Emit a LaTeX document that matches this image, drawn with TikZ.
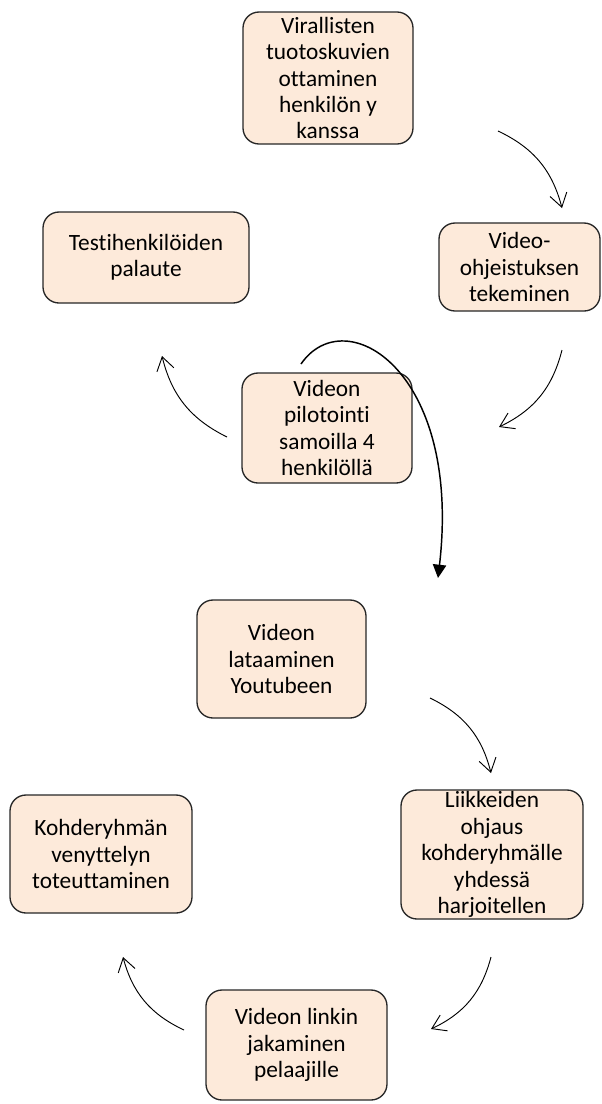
\documentclass[tikz,border=0pt]{standalone}
\usepackage{fontspec}
\setmainfont{Carlito}[RawFeature={-liga}]
\usetikzlibrary{arrows.meta,positioning}
\definecolor{boxfill}{RGB}{253,234,218}

\begin{document}
\begin{tikzpicture}[x=0.75pt,y=0.75pt]
       \tikzstyle{stepbox}=[draw=black!85, fill=boxfill, line width=1pt,
                            rounded corners=12pt, align=center, inner sep=0pt,
                            font=\fontsize{17.5}{19.8}\selectfont]
       \tikzstyle{cyc}=[-{Straight Barb[length=10pt,width=13pt]}, line width=0.7pt]
       \tikzstyle{bigarrow}=[-{Triangle[length=10pt,width=10pt]}, line width=1.1pt]

       \useasboundingbox (0,0) rectangle (601,-1104);

       % first round
       \node[stepbox, minimum width=127.5pt, minimum height=99pt]   (virall) at (328,-78)    {Virallisten\\tuotoskuvien\\ottaminen\\henkilön y\\kanssa};
       \node[stepbox, minimum width=120.75pt, minimum height=66pt]  (video)  at (519.5,-267) {Video-\\ohjeistuksen\\tekeminen};
       \node[stepbox, minimum width=127.5pt, minimum height=82.5pt] (pilot)  at (327,-428)   {Videon\\pilotointi\\samoilla 4\\henkilöllä};
       \node[stepbox, minimum width=154.5pt, minimum height=68.25pt](testi)  at (146,-257.5) {Testihenkilöiden\\palaute};

       % second round
       \node[stepbox, minimum width=126.75pt, minimum height=88.5pt] (lataus) at (281.5,-659)  {Videon\\lataaminen\\Youtubeen};
       \node[stepbox, minimum width=136.5pt, minimum height=96.75pt] (liikk)  at (492,-854.5)  {Liikkeiden\\ohjaus\\kohderyhmälle\\yhdessä\\harjoitellen};
       \node[stepbox, minimum width=135.75pt, minimum height=82.5pt] (linkki) at (296.5,-1045) {Videon linkin\\jakaminen\\pelaajille};
       \node[stepbox, minimum width=136.5pt, minimum height=88.5pt]  (kohde)  at (101,-854)    {Kohderyhmän\\venyttelyn\\toteuttaminen};

       % arrow ends
       \coordinate (a1s) at (498,-131);  \coordinate (a1e) at (562,-208);
       \coordinate (a2s) at (562,-350);  \coordinate (a2e) at (499,-427);
       \coordinate (a3s) at (227,-437);  \coordinate (a3e) at (162,-356);
       \coordinate (bgs) at (301,-364);  \coordinate (bge) at (438,-578);
       \coordinate (a5s) at (430,-698);  \coordinate (a5e) at (491,-773);
       \coordinate (a6s) at (491,-957);  \coordinate (a6e) at (431,-1029);
       \coordinate (a7s) at (184,-1030); \coordinate (a7e) at (123,-957);

       \path[cyc]
       (a1s) edge [bend left=25] (a1e)
       (a2s) edge [bend left=25] (a2e)
       (a3s) edge [bend left=25] (a3e)
       (a5s) edge [bend left=25] (a5e)
       (a6s) edge [bend left=25] (a6e)
       (a7s) edge [bend left=25] (a7e);

       \draw[bigarrow] (bgs) .. controls (345,-300) and (462,-370) .. (bge);
\end{tikzpicture}
\end{document}
